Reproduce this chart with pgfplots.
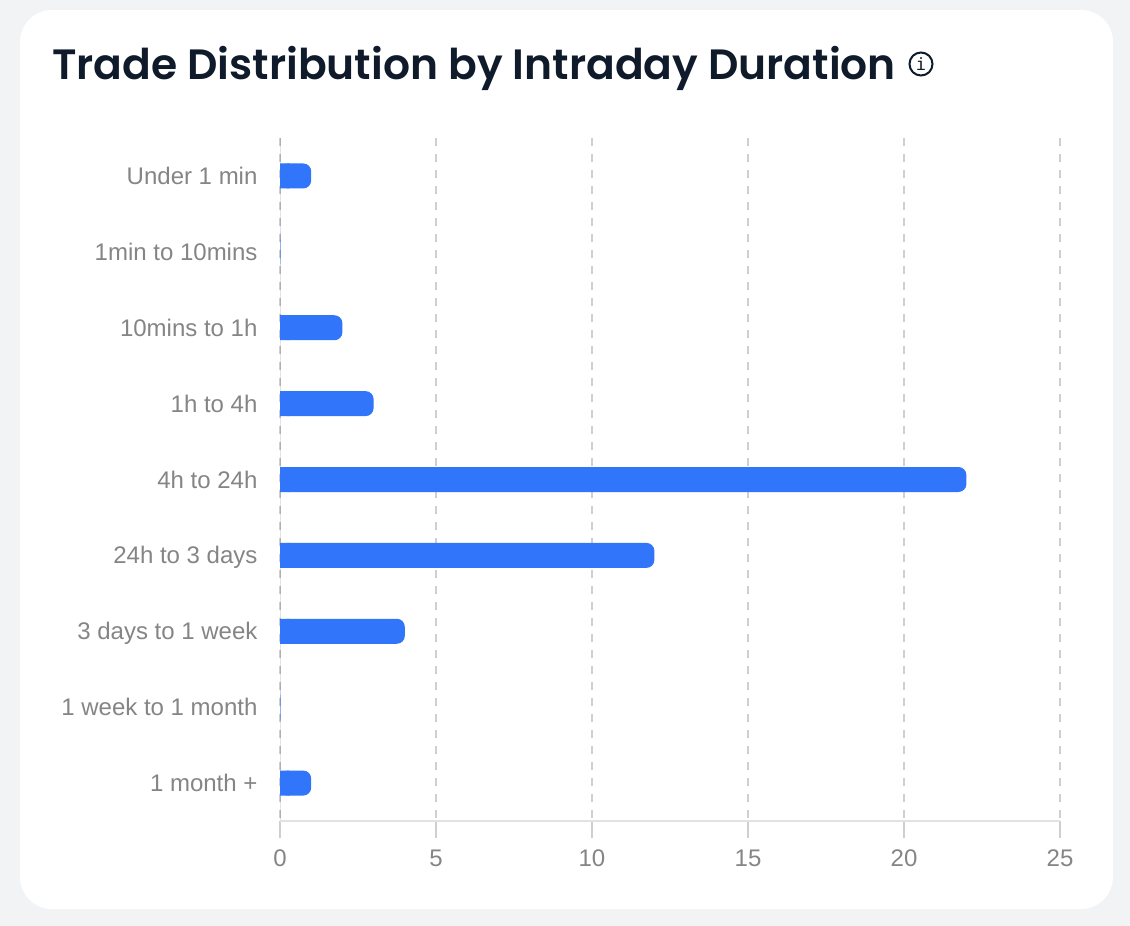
\documentclass[border=0pt]{standalone}
\usepackage{fontspec}
\setmainfont{Liberation Sans}
\newfontfamily\titlefont{Poppins}[UprightFont=* SemiBold]
\newfontfamily\iconfont{DejaVu Sans Mono}
\usepackage{pgfplots}
\usepackage{pgfplotstable}
\pgfplotsset{compat=1.18}

\definecolor{pagebg}{HTML}{F2F3F5}
\definecolor{barblue}{HTML}{3175FA}
\definecolor{labelgrey}{HTML}{858585}
\definecolor{gridgrey}{HTML}{CFCFCF}
\definecolor{axisgrey}{HTML}{E2E2E2}
\definecolor{titleink}{HTML}{0F1A2A}

% pos counts up from the bottom row; base = square left part of each bar
\pgfplotstableread{
pos value base
8   1     0.3
7   0     0.012
6   2     0.3
5   3     0.3
4   22    0.3
3   12    0.3
2   4     0.3
1   0     0.012
0   1     0.3
}\durations

\begin{document}
\begin{tikzpicture}[x=1pt,y=1pt]
\useasboundingbox (0,0) rectangle (1130,-926);
\fill[pagebg] (0,0) rectangle (1130,-926);
\fill[white,rounded corners=32pt] (20,-10) rectangle (1113,-909);

\node[anchor=base west,inner sep=0pt,text=titleink,font=\fontsize{42.4}{50}\selectfont\titlefont]
  at (52,-79) {Trade Distribution by Intraday Duration};
\draw[titleink,line width=2pt] (921,-64) circle (11.5);
\node[text=titleink,font=\fontsize{17}{20}\selectfont\iconfont,inner sep=0pt] at (921,-64) {i};

\begin{axis}[
    at={(280pt,-821pt)},
    anchor=south west,
    scale only axis,
    width=780pt,
    height=683pt,
    xmin=0, xmax=25,
    ymin=-0.5, ymax=8.5,
    axis x line=bottom,
    axis y line=left,
    axis line style={axisgrey,line width=2pt,-},
    y axis line style={draw=none},
    xtick={0,5,10,15,20,25},
    ytick={0,...,8},
    yticklabels={1 month +,1 week to 1 month,3 days to 1 week,24h to 3 days,4h to 24h,1h to 4h,10mins to 1h,1min to 10mins,Under 1 min},
    xmajorgrids=true,
    grid style={gridgrey,line width=2pt,dash pattern=on 8pt off 8pt,dash phase=13pt},
    hide obscured x ticks=false,
    x tick style={gridgrey,line width=2pt},
    y tick style={draw=none},
    tick align=outside,
    major tick length=17pt,
    /pgf/number format/assume math mode=true,
    tick label style={text=labelgrey,font=\fontsize{24}{28}\selectfont},
    xticklabel style={yshift=-8pt},
    yticklabel style={xshift=-2pt,text height=20pt,text depth=3pt},
]
\draw[axisgrey,line width=2pt] (axis cs:0,-0.5) -- (axis cs:0,8.5);
\draw[gridgrey!85!black,line width=2pt,dash pattern=on 8pt off 8pt,dash phase=13pt] (axis cs:0,-0.5) -- (axis cs:0,8.5);
\addplot[xbar,bar width=25pt,bar shift=0pt,fill=barblue,draw=none,rounded corners=8pt] table[x=value,y=pos] {\durations};
\addplot[xbar,bar width=25pt,bar shift=0pt,fill=barblue,draw=none] table[x=base,y=pos] {\durations};
\end{axis}
\end{tikzpicture}
\end{document}
